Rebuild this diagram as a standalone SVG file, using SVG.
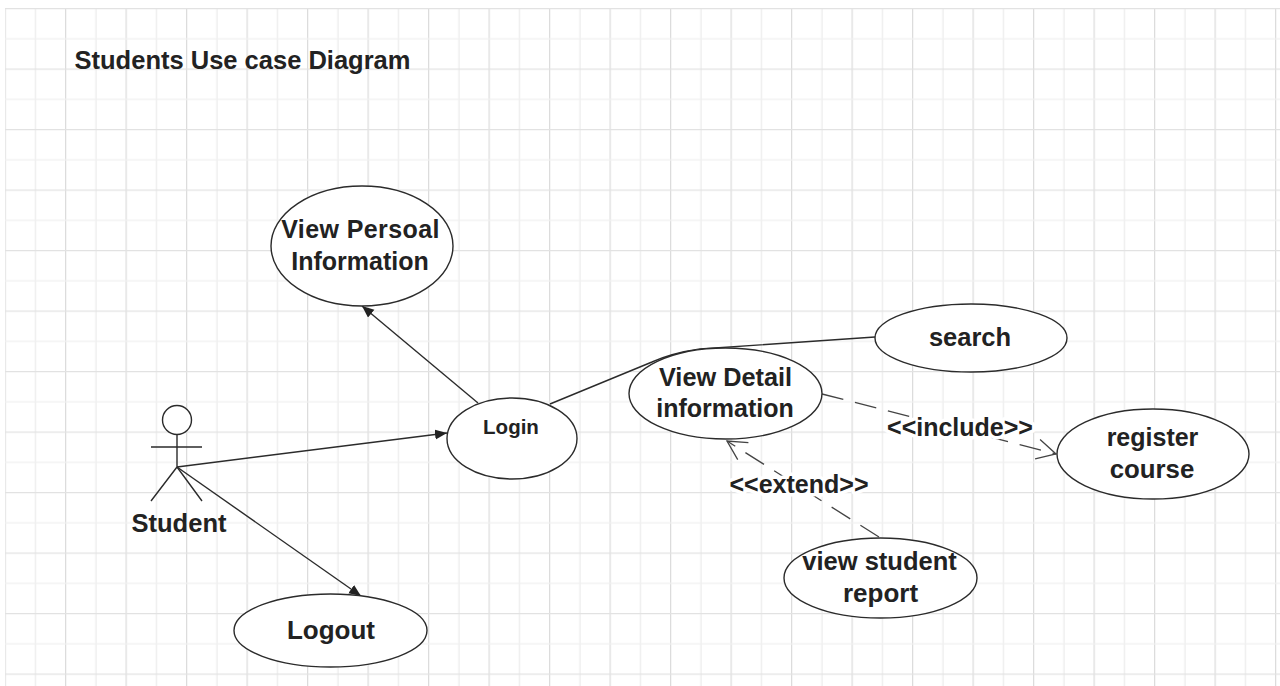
<svg xmlns="http://www.w3.org/2000/svg" width="1280" height="686" viewBox="0 0 1280 686">
<defs>
<pattern id="grid" patternUnits="userSpaceOnUse" x="4.500" y="8" width="60.5" height="60.5">
<path d="M0.5 0V60.500" stroke="#dcdcdc" stroke-width="1.5" fill="none"/>
<path d="M31 0V60.500" stroke="#ededed" stroke-width="1.3" fill="none"/>
<path d="M0 0.6H60.500" stroke="#e2e2e2" stroke-width="1.5" fill="none"/>
<path d="M0 30.900H60.500" stroke="#f0f0f0" stroke-width="1.3" fill="none"/>
</pattern>
<marker id="solid" markerUnits="userSpaceOnUse" markerWidth="14" markerHeight="12" refX="12" refY="5" orient="auto">
<path d="M0 0L12 5L0 10Z" fill="#222"/>
</marker>
<marker id="open" markerUnits="userSpaceOnUse" markerWidth="24" markerHeight="24" refX="21" refY="11" orient="auto">
<path d="M2 1L21 11L2 21" fill="none" stroke="#444" stroke-width="1.3"/>
</marker>
</defs>
<style>
.n{fill:#fff;stroke:#2b2b2b;stroke-width:1.4}
.c{fill:none;stroke:#2b2b2b;stroke-width:1.4}
.d{fill:none;stroke:#444;stroke-width:1.3;stroke-dasharray:22 12}
text{font-family:"Liberation Sans",Arial,sans-serif;font-weight:bold;fill:#222;text-anchor:middle}
.l{paint-order:stroke;stroke:#fff;stroke-width:7px;stroke-linejoin:round}
</style>
<rect width="1280" height="686" fill="#fff"/>
<rect x="5" y="8" width="1275" height="678" fill="url(#grid)"/>
<text x="242.500" y="69" font-size="25.500">Students Use case Diagram</text>
<g id="connectors">
<path class="c" d="M177 467L447 433" marker-end="url(#solid)"/>
<path class="c" d="M177 467L361 596" marker-end="url(#solid)"/>
<path class="c" d="M478 403L362 306" marker-end="url(#solid)"/>
<path class="c" d="M550 404L652 362Q672 353 700 349L875 337"/>
<path class="d" d="M822 394L1056 454" marker-end="url(#open)"/>
<path class="d" d="M879 537L727 441" marker-end="url(#open)"/>
</g>
<g id="actor-student">
<circle class="n" cx="177" cy="420" r="14.500"/>
<path class="c" d="M177 434.500V467M151 447H202M151 501L177 467L202 501"/>
<text x="179" y="532" font-size="25.500">Student</text>
</g>
<g id="view-personal"><ellipse class="n" cx="362" cy="246" rx="91" ry="60"/><text x="360.500" y="238" font-size="25" letter-spacing="0.400">View Persoal</text><text x="360" y="270" font-size="25">Information</text></g>
<g id="login"><ellipse class="n" cx="512" cy="438.500" rx="65" ry="40.500"/><text x="511" y="434" font-size="20.500">Login</text></g>
<g id="search"><ellipse class="n" cx="971" cy="338" rx="96" ry="34"/><text x="970" y="346" font-size="25.500">search</text></g>
<g id="view-detail"><ellipse class="n" cx="725.500" cy="393.500" rx="96.500" ry="45.500"/><text x="725.500" y="386" font-size="25.300">View Detail</text><text x="725" y="417" font-size="25">information</text></g>
<g id="register"><ellipse class="n" cx="1153" cy="454" rx="96" ry="45"/><text x="1152.500" y="446" font-size="25">register</text><text x="1152" y="478" font-size="25.800">course</text></g>
<g id="view-report"><ellipse class="n" cx="880.500" cy="578" rx="96.500" ry="40"/><text x="879.500" y="570" font-size="25.500">view student</text><text x="880.500" y="602" font-size="26">report</text></g>
<g id="logout"><ellipse class="n" cx="330.500" cy="630.500" rx="96.500" ry="36.500"/><text x="331" y="639" font-size="26">Logout</text></g>
<text class="l" x="960" y="436" font-size="25">&lt;&lt;include&gt;&gt;</text>
<text class="l" x="799" y="493" font-size="25">&lt;&lt;extend&gt;&gt;</text>
</svg>
